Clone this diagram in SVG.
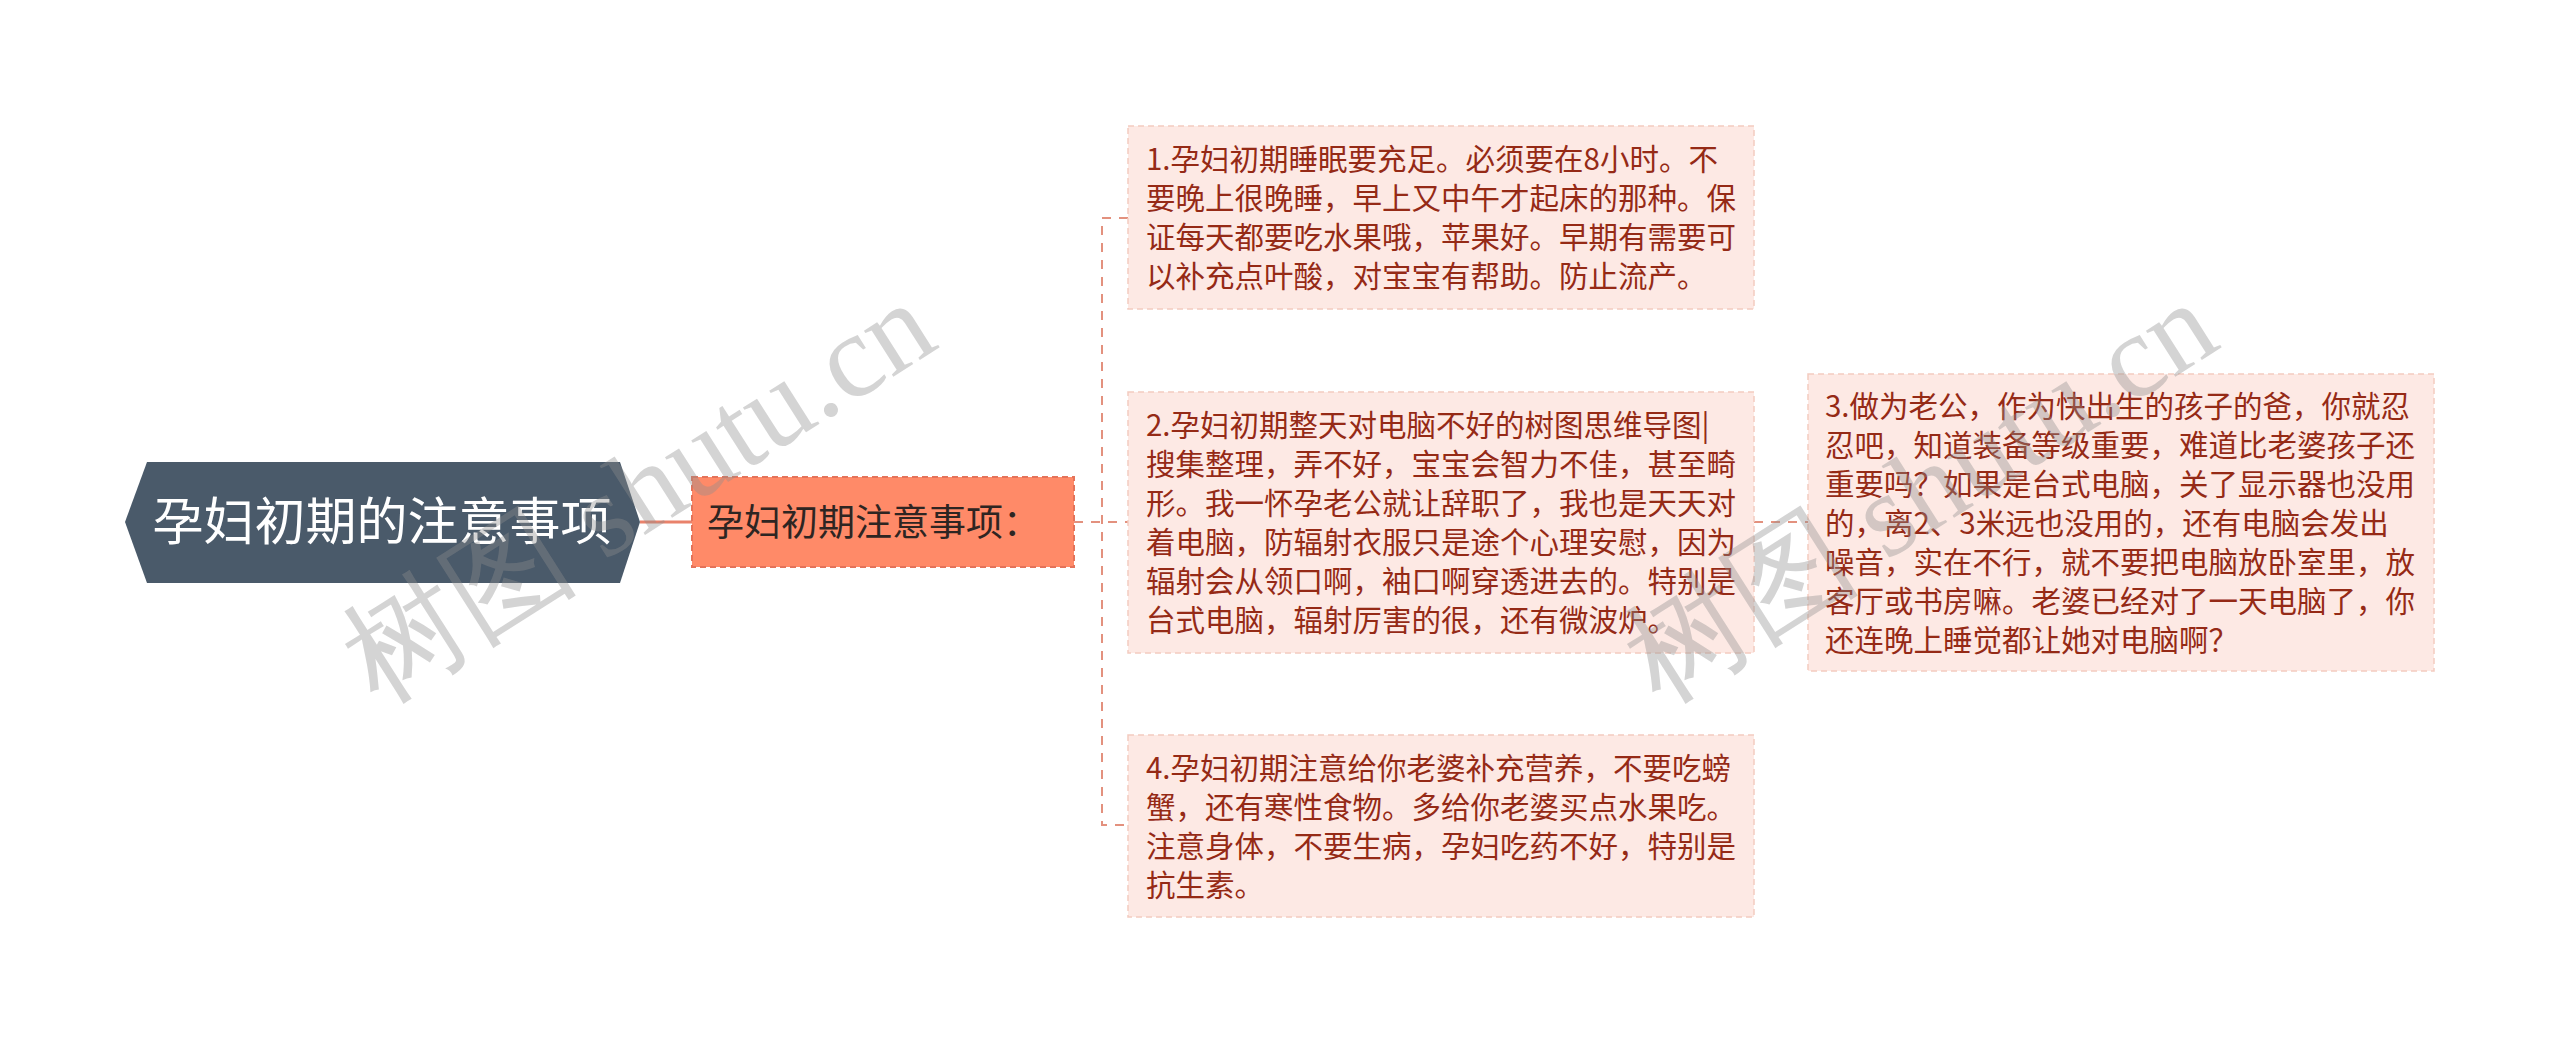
<svg xmlns="http://www.w3.org/2000/svg" width="2560" height="1045" viewBox="0 0 2560 1045">
<style>
.cjk{font-family:"Noto Sans CJK SC","Noto Sans",sans-serif;}
.leafbox{fill:#FDE9E4;stroke:#F3CBC0;stroke-width:1.5;stroke-dasharray:6 4;}
.leaftxt{font-size:29.5px;fill:#952A16;}
.conn{fill:none;stroke:#E3917E;stroke-width:2;stroke-dasharray:9 8;}
.wm{font-family:"Liberation Serif","DejaVu Serif",serif;font-size:119px;fill:#8f8f8f;fill-opacity:0.38;}
</style>
<rect width="2560" height="1045" fill="#ffffff"/>
<g id="connectors">
<line x1="640" y1="522" x2="692" y2="522" stroke="#E9826B" stroke-width="3"/>
<line class="conn" x1="1074" y1="522" x2="1128" y2="522"/>
<path class="conn" d="M1128 218 H1102 V825 H1128"/>
<line class="conn" x1="1754" y1="522" x2="1808" y2="522"/>
</g>
<g id="root">
<polygon points="125,522 147,462 620,462 640,522 620,583 147,583" fill="#4A5A6A"/>
<text class="cjk" x="382" y="540" font-size="51" fill="#ffffff" text-anchor="middle">孕妇初期的注意事项</text>
</g>
<g id="child">
<rect x="692" y="477" width="382" height="90" fill="#FF8A68" stroke="#E4735A" stroke-width="2" stroke-dasharray="6 4"/>
<text class="cjk" x="707" y="536" font-size="37" fill="#2E2522">孕妇初期注意事项：</text>
</g>
<g id="leaf1">
<rect class="leafbox" x="1128" y="126" width="626" height="183"/>
<text class="cjk leaftxt">
<tspan x="1146" y="170">1.孕妇初期睡眠要充足。必须要在8小时。不</tspan>
<tspan x="1146" y="209">要晚上很晚睡，早上又中午才起床的那种。保</tspan>
<tspan x="1146" y="248">证每天都要吃水果哦，苹果好。早期有需要可</tspan>
<tspan x="1146" y="287">以补充点叶酸，对宝宝有帮助。防止流产。</tspan>
</text>
</g>
<g id="leaf2">
<rect class="leafbox" x="1128" y="392" width="626" height="261"/>
<text class="cjk leaftxt">
<tspan x="1146" y="436">2.孕妇初期整天对电脑不好的树图思维导图|</tspan>
<tspan x="1146" y="475">搜集整理，弄不好，宝宝会智力不佳，甚至畸</tspan>
<tspan x="1146" y="514">形。我一怀孕老公就让辞职了，我也是天天对</tspan>
<tspan x="1146" y="553">着电脑，防辐射衣服只是途个心理安慰，因为</tspan>
<tspan x="1146" y="592">辐射会从领口啊，袖口啊穿透进去的。特别是</tspan>
<tspan x="1146" y="631">台式电脑，辐射厉害的很，还有微波炉。</tspan>
</text>
</g>
<g id="leaf3">
<rect class="leafbox" x="1808" y="374" width="626" height="297"/>
<text class="cjk leaftxt">
<tspan x="1825" y="416.5">3.做为老公，作为快出生的孩子的爸，你就忍</tspan>
<tspan x="1825" y="455.5">忍吧，知道装备等级重要，难道比老婆孩子还</tspan>
<tspan x="1825" y="494.5">重要吗？如果是台式电脑，关了显示器也没用</tspan>
<tspan x="1825" y="533.5">的，离2、3米远也没用的，还有电脑会发出</tspan>
<tspan x="1825" y="572.5">噪音，实在不行，就不要把电脑放卧室里，放</tspan>
<tspan x="1825" y="611.5">客厅或书房嘛。老婆已经对了一天电脑了，你</tspan>
<tspan x="1825" y="650.5">还连晚上睡觉都让她对电脑啊？</tspan>
</text>
</g>
<g id="leaf4">
<rect class="leafbox" x="1128" y="735" width="626" height="182"/>
<text class="cjk leaftxt">
<tspan x="1146" y="778.5">4.孕妇初期注意给你老婆补充营养，不要吃螃</tspan>
<tspan x="1146" y="817.5">蟹，还有寒性食物。多给你老婆买点水果吃。</tspan>
<tspan x="1146" y="856.5">注意身体，不要生病，孕妇吃药不好，特别是</tspan>
<tspan x="1146" y="895.5">抗生素。</tspan>
</text>
</g>
<g id="watermarks">
<text class="wm" transform="translate(378 705) rotate(-32.5)">树图 shutu.cn</text>
<text class="wm" transform="translate(1660 705) rotate(-32.5)">树图 shutu.cn</text>
</g>
</svg>
